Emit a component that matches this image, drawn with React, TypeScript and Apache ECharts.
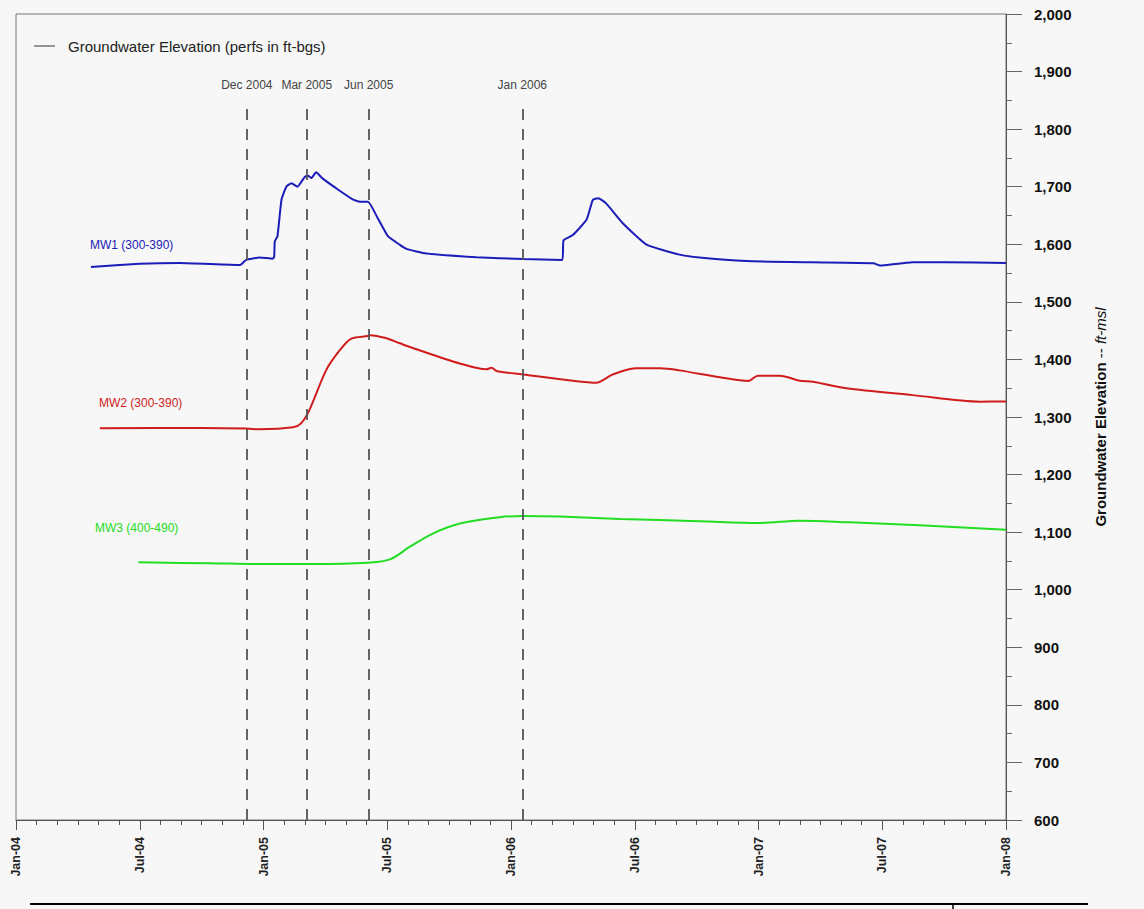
import React, { useEffect, useRef } from "react";
import * as echarts from "echarts";

// Groundwater elevation readings (date, ft-msl)
const MW1_SERIES: [string, number][] = [
  ["2004-04-20", 1560.5], ["2004-07-01", 1566], ["2004-08-30", 1567.5], ["2004-11-27", 1564],
  ["2004-12-06", 1573], ["2004-12-26", 1577], ["2005-01-15", 1575], ["2005-01-17", 1578],
  ["2005-01-18", 1605], ["2005-01-22", 1614], ["2005-01-28", 1677], ["2005-02-04", 1700],
  ["2005-02-11", 1706], ["2005-02-19", 1700], ["2005-03-01", 1717], ["2005-03-06", 1719],
  ["2005-03-11", 1715], ["2005-03-18", 1725], ["2005-03-28", 1714], ["2005-04-17", 1697],
  ["2005-05-11", 1678], ["2005-05-22", 1674], ["2005-06-03", 1674], ["2005-06-16", 1648],
  ["2005-07-02", 1614], ["2005-07-20", 1599], ["2005-07-30", 1592], ["2005-08-29", 1584],
  ["2005-11-11", 1577.5], ["2006-01-19", 1574.4], ["2006-03-16", 1572.7], ["2006-03-18", 1607],
  ["2006-04-01", 1616], ["2006-04-21", 1643], ["2006-04-30", 1677], ["2006-05-08", 1680],
  ["2006-05-20", 1671], ["2006-06-14", 1636], ["2006-07-18", 1600], ["2006-09-06", 1582],
  ["2006-10-05", 1577], ["2006-12-14", 1571], ["2007-03-21", 1568.7], ["2007-06-18", 1567],
  ["2007-06-28", 1563], ["2007-07-08", 1564], ["2007-08-16", 1568.7], ["2007-10-04", 1568.7],
  ["2008-01-01", 1567.5],
];

const MW2_SERIES: [string, number][] = [
  ["2004-05-03", 1280.3], ["2004-09-29", 1281], ["2004-12-06", 1280], ["2004-12-26", 1278.6],
  ["2005-02-13", 1282], ["2005-02-24", 1289], ["2005-03-08", 1312], ["2005-04-02", 1381],
  ["2005-04-22", 1416], ["2005-05-09", 1436], ["2005-06-03", 1440.7], ["2005-06-06", 1442],
  ["2005-06-20", 1439.5], ["2005-06-30", 1436.7], ["2005-07-20", 1428], ["2005-08-14", 1417.6],
  ["2005-10-17", 1393], ["2005-11-25", 1382.8], ["2005-12-03", 1385.6], ["2005-12-10", 1380],
  ["2006-01-19", 1374], ["2006-04-01", 1363], ["2006-05-06", 1359.6], ["2006-05-15", 1364],
  ["2006-05-30", 1374], ["2006-07-04", 1384.6], ["2006-08-08", 1384.6], ["2006-09-06", 1381],
  ["2006-11-05", 1369], ["2006-12-17", 1362.5], ["2006-12-31", 1371.8], ["2007-02-02", 1371.8],
  ["2007-03-01", 1363], ["2007-03-21", 1361.3], ["2007-05-09", 1349.8], ["2007-08-16", 1338],
  ["2007-11-23", 1326.6], ["2008-01-01", 1327],
];

const MW3_SERIES: [string, number][] = [
  ["2004-06-29", 1047.5], ["2004-10-13", 1046], ["2004-12-26", 1044.6], ["2005-03-13", 1044.6],
  ["2005-06-03", 1047], ["2005-07-05", 1052.7], ["2005-08-04", 1074.7], ["2005-09-08", 1098],
  ["2005-10-17", 1115], ["2005-12-15", 1126], ["2006-01-18", 1128], ["2006-03-12", 1127],
  ["2006-06-09", 1123], ["2006-10-05", 1119], ["2007-01-03", 1116], ["2007-03-01", 1120],
  ["2007-05-14", 1117], ["2007-08-26", 1112], ["2008-01-01", 1104],
];

// Event markers drawn as dashed verticals
const EVENT_DATES = ["2004-12-07", "2005-03-04", "2005-06-04", "2006-01-18"];
const EVENT_LABELS = ["Dec 2004", "Mar 2005", "Jun 2005", "Jan 2006"];

const MONTH_NAMES = ["Jan", "Feb", "Mar", "Apr", "May", "Jun", "Jul", "Aug", "Sep", "Oct", "Nov", "Dec"];
const Y_MIN = 600;
const Y_MAX = 2000;
const Y_STEP = 100;
const EVENT_TOP = 1850;

const FONT = "'Liberation Sans', Arial, sans-serif";

// Months elapsed since Jan 2004 (fractional within the month)
const toMonth = (d: string): number => {
  const [y, m, dd] = d.split("-").map(Number);
  const dim = new Date(Date.UTC(y, m, 0)).getUTCDate();
  return (y - 2004) * 12 + (m - 1) + (dd - 1) / dim;
};

const toPoints = (rows: [string, number][]) => rows.map(([d, v]) => [toMonth(d), v]);

export default function App() {
  const ref = useRef<HTMLDivElement>(null);

  useEffect(() => {
    if (!ref.current) return;
    const chart = echarts.init(ref.current, undefined, { renderer: "svg" });

    const xBase = {
      type: "value" as const,
      min: 0,
      max: 48,
      position: "bottom" as const,
      splitLine: { show: false },
    };

    const seriesLabel = (text: string, x: number, y: number, color: string) => ({
      type: "text",
      x,
      y,
      style: { text, fill: color, fontSize: 12, fontFamily: FONT, verticalAlign: "middle" },
    });

    chart.setOption({
      animation: false,
      backgroundColor: "#f7f7f7",
      grid: {
        left: 16,
        top: 14,
        right: 138,
        bottom: 89,
        show: true,
        borderColor: "#777",
        borderWidth: 1,
        backgroundColor: "transparent",
      },
      xAxis: [
        {
          ...xBase,
          interval: 1,
          axisLine: { show: true, onZero: false, lineStyle: { color: "#555", width: 1 } },
          axisTick: { show: true, length: 5, lineStyle: { color: "#555" } },
          axisLabel: { show: false },
        },
        {
          ...xBase,
          interval: 6,
          axisLine: { show: false, onZero: false },
          axisTick: { show: true, length: 10, lineStyle: { color: "#555" } },
          axisLabel: {
            show: true,
            rotate: 90,
            margin: 17,
            color: "#222",
            fontSize: 12.5,
            fontWeight: "bold",
            fontFamily: FONT,
            formatter: (v: number) => {
              const m = Math.round(v);
              const yr = 4 + Math.floor(m / 12);
              return `${MONTH_NAMES[m % 12]}-${String(yr).padStart(2, "0")}`;
            },
          },
        },
      ],
      yAxis: {
        type: "value",
        position: "right",
        min: Y_MIN,
        max: Y_MAX,
        interval: Y_STEP,
        splitLine: { show: false },
        axisLine: { show: true, onZero: false, lineStyle: { color: "#555", width: 1 } },
        axisTick: { show: true, inside: false, length: 16, lineStyle: { color: "#666" } },
        minorTick: { show: true, splitNumber: 2, length: 6, lineStyle: { color: "#666" } },
        axisLabel: {
          margin: 28,
          color: "#111",
          fontSize: 15,
          fontWeight: "bold",
          fontFamily: FONT,
          formatter: (v: number) => v.toLocaleString("en-US"),
        },
        name: "{b|Groundwater Elevation}{n| -- }{i|ft-msl}",
        nameLocation: "middle",
        nameRotate: 90,
        nameGap: 87,
        nameTextStyle: {
          fontFamily: FONT,
          rich: {
            b: { fontSize: 15, fontWeight: "bold", color: "#111", fontFamily: FONT },
            n: { fontSize: 15, color: "#111", fontFamily: FONT },
            i: { fontSize: 15, fontStyle: "italic", color: "#111", fontFamily: FONT },
          },
        },
      },
      series: [
        {
          name: "MW1 (300-390)",
          type: "line",
          data: toPoints(MW1_SERIES),
          showSymbol: false,
          smooth: 0.15,
          lineStyle: { color: "#1c1cb8", width: 2 },
        },
        {
          name: "MW2 (300-390)",
          type: "line",
          data: toPoints(MW2_SERIES),
          showSymbol: false,
          smooth: 0.3,
          lineStyle: { color: "#d01c1c", width: 2 },
        },
        {
          name: "MW3 (400-490)",
          type: "line",
          data: toPoints(MW3_SERIES),
          showSymbol: false,
          smooth: 0.35,
          lineStyle: { color: "#22dd22", width: 2 },
        },
        {
          name: "events",
          type: "line",
          data: [],
          silent: true,
          markLine: {
            silent: true,
            symbol: ["none", "none"],
            lineStyle: { color: "#555", width: 1.8, type: [11, 9] },
            label: {
              show: true,
              position: "end",
              distance: 9,
              color: "#444",
              fontSize: 12,
              fontFamily: FONT,
              formatter: "{b}",
            },
            data: EVENT_DATES.map((d, i) => [
              { coord: [toMonth(d), Y_MIN], name: EVENT_LABELS[i] },
              { coord: [toMonth(d), EVENT_TOP], name: EVENT_LABELS[i] },
            ]),
          },
        },
      ],
      graphic: [
        // Legend
        { type: "line", shape: { x1: 34, y1: 46, x2: 55, y2: 46 }, style: { stroke: "#333", lineWidth: 1 } },
        {
          type: "text",
          x: 68,
          y: 46,
          style: {
            text: "Groundwater Elevation (perfs in ft-bgs)",
            fill: "#222",
            fontSize: 15,
            fontFamily: FONT,
            verticalAlign: "middle",
          },
        },
        // Series labels
        seriesLabel("MW1 (300-390)", 90, 245, "#1c1cb8"),
        seriesLabel("MW2 (300-390)", 99, 403, "#d01c1c"),
        seriesLabel("MW3 (400-490)", 95, 528, "#22dd22"),
        // Page rule at the bottom
        { type: "line", shape: { x1: 30, y1: 904, x2: 1088, y2: 904 }, style: { stroke: "#000", lineWidth: 2 } },
        { type: "line", shape: { x1: 953, y1: 904, x2: 953, y2: 909 }, style: { stroke: "#000", lineWidth: 1.5 } },
      ],
    });

    return () => chart.dispose();
  }, []);

  return (
    <div
      ref={ref}
      style={{ position: "absolute", left: 0, top: 0, width: 1144, height: 909 }}
    />
  );
}
